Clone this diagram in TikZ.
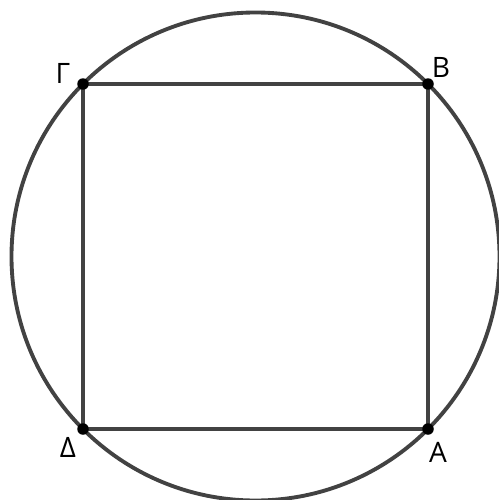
\documentclass[tikz,border=0pt]{standalone}
\usepackage{fontspec}
\setmainfont{Open Sans}
\begin{document}
\begin{tikzpicture}[x=0.02cm,y=-0.02cm,
 edge/.style={draw=black!74,line width=2.2pt},
 pt/.style={circle,fill=black,inner sep=0pt,minimum size=0.23cm},
 lab/.style={font=\fontsize{16}{18}\selectfont,inner sep=1pt}]
\useasboundingbox (0,0) rectangle (498,500);
\coordinate (O) at (255.5,256.5);
\coordinate (G) at (83,84);
\coordinate (B) at (428,84);
\coordinate (D) at (83,429);
\coordinate (A) at (428,429);
\draw[edge] (O) circle (244);
\draw[edge] (G) -- (B) -- (A) -- (D) -- cycle;
% vertices
\foreach \p in {G,B,D,A}
  \node[pt] (dot\p) at (\p) {};
\node[lab] (labG) at (63,73) {Γ};
\node[lab] (labB) at (441,67) {Β};
\node[lab] (labD) at (68,447) {Δ};
\node[lab] (labA) at (438,452) {Α};
\end{tikzpicture}
\end{document}
